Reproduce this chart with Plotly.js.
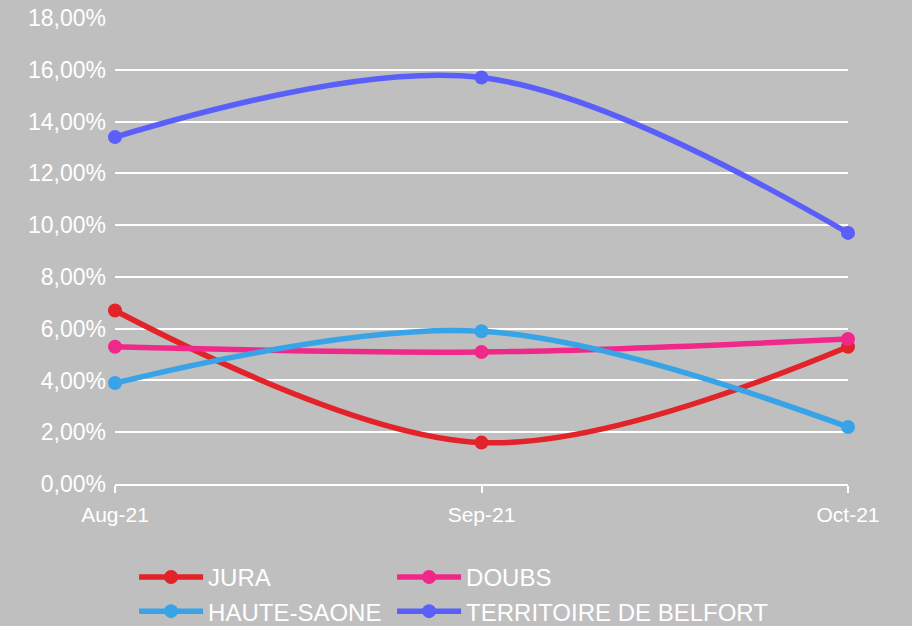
<!DOCTYPE html>
<html>
<head>
<meta charset="utf-8">
<script src="https://cdn.plot.ly/plotly-3.0.1.min.js"></script>
<style>html,body{margin:0;padding:0;background:#bfbfbf;}#chart{width:912px;height:626px;}</style>
</head>
<body>
<div id="chart"></div>
<script>
const months = ["Aug-21", "Sep-21", "Oct-21"];
const jura = [0.067, 0.016, 0.053];
const doubs = [0.053, 0.051, 0.056];
const hauteSaone = [0.039, 0.059, 0.022];
const belfort = [0.134, 0.157, 0.097];
const seriesNames = ["JURA", "DOUBS", "HAUTE-SAONE", "TERRITOIRE DE BELFORT"];
const seriesColors = ["#e2232a", "#f0288a", "#39a3e8", "#5b5ff9"];
const seriesLegend = ["legend", "legend2", "legend", "legend2"];
const yTicks = [0, 0.02, 0.04, 0.06, 0.08, 0.10, 0.12, 0.14, 0.16, 0.18];

const values = [jura, doubs, hauteSaone, belfort];
const traces = values.map((v, i) => ({
  type: "scatter",
  mode: "lines+markers",
  x: months,
  y: v,
  name: seriesNames[i],
  legend: seriesLegend[i],
  line: {color: seriesColors[i], width: 5.5, shape: "spline", smoothing: 1},
  marker: {color: seriesColors[i], size: 14},
  cliponaxis: false,
  hoverinfo: "none"
}));

const legendBase = {
  orientation: "v",
  xanchor: "left",
  y: -0.152, yanchor: "top",
  itemwidth: 64,
  font: {size: 24, color: "#ffffff"},
  bgcolor: "rgba(0,0,0,0)"
};

const layout = {
  width: 912,
  height: 626,
  paper_bgcolor: "#bfbfbf",
  plot_bgcolor: "#bfbfbf",
  separators: ",.",
  font: {family: "Liberation Sans, Arial, sans-serif", color: "#ffffff", size: 20},
  margin: {l: 115, r: 64, t: 18, b: 142, autoexpand: false},
  showlegend: true,
  legend: Object.assign({}, legendBase, {x: 0.026}),
  legend2: Object.assign({}, legendBase, {x: 0.378}),
  xaxis: {
    type: "category",
    range: [0, 2],
    showgrid: false,
    showline: true, linecolor: "#ffffff", linewidth: 2,
    ticks: "outside", ticklen: 7, tickcolor: "#ffffff", tickwidth: 2,
    ticklabelstandoff: 4,
    tickfont: {size: 21, color: "#ffffff"},
    zeroline: false,
    automargin: false,
    fixedrange: true
  },
  yaxis: {
    range: [0, 0.18],
    tickvals: yTicks,
    tickformat: ".2%",
    showgrid: true, gridcolor: "#ffffff", gridwidth: 2,
    showline: false, zeroline: false,
    ticks: "",
    ticklabelstandoff: 8,
    tickfont: {size: 23, color: "#ffffff"},
    automargin: false,
    fixedrange: true
  }
};

Plotly.newPlot("chart", traces, layout, {displayModeBar: false, staticPlot: true});
</script>
</body>
</html>
